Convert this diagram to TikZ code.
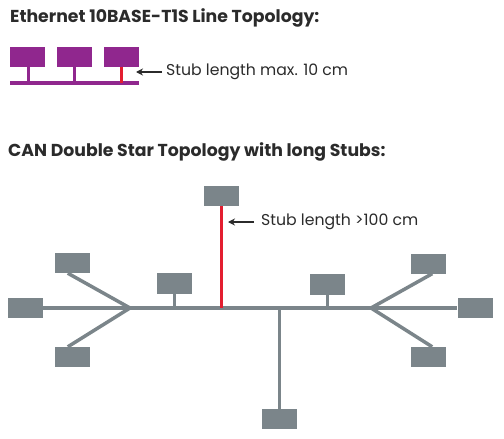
\documentclass[tikz,border=0pt]{standalone}
\usepackage{fontspec}
\setmainfont{Poppins}
\usepackage{tikz}
\usetikzlibrary{calc,positioning,arrows.meta}
\definecolor{purplebox}{HTML}{90278E}
\definecolor{graybox}{HTML}{7B858A}
\definecolor{stubred}{HTML}{E31E30}
\definecolor{textdark}{HTML}{2B2B2B}
\tikzstyle{ethbox} = [rectangle, minimum width=35pt, minimum height=20pt, inner sep=0pt, fill=purplebox]
\tikzstyle{canbox} = [rectangle, minimum width=35pt, minimum height=20pt, inner sep=0pt, fill=graybox]
\tikzstyle{ethline} = [draw=purplebox, line width=3pt]
\tikzstyle{canline} = [draw=graybox, line width=3.5pt]
\tikzstyle{longstub} = [draw=stubred, line width=3pt]
\tikzstyle{title} = [anchor=west, inner sep=0pt, text=textdark, font=\fontsize{17.3}{20}\selectfont\bfseries]
\tikzstyle{label} = [anchor=west, inner sep=0pt, text=textdark, font=\fontsize{15.7}{19}\selectfont]
\tikzstyle{arrow} = [draw=textdark, line width=1.6pt, -{Stealth[length=7pt,width=7pt]}]

\begin{document}
\begin{tikzpicture}[x=1pt, y=-1pt]
    \useasboundingbox (0,0) rectangle (504,439);

    % Ethernet line topology
    \node (ethtitle) [title] at (10,18) {Ethernet 10BASE-T1S Line Topology:};
    \node (eth1) [ethbox] at (27.5,57) {};
    \node (eth2) [ethbox, right=12pt of eth1] {};
    \node (eth3) [ethbox, right=11pt of eth2] {};
    \coordinate (busL) at (10,83);
    \coordinate (busR) at (139,83);

    \draw [ethline, line width=4pt] (busL) -- (busR);
    \draw [ethline] ([xshift=0.5pt]eth1.south) -- ([xshift=0.5pt]eth1.south |- busL);
    \draw [ethline] ([xshift=-0.5pt]eth2.south) -- ([xshift=-0.5pt]eth2.south |- busL);
    \draw [longstub] ([xshift=0.5pt]eth3.south) -- ([xshift=0.5pt]eth3.south |- busL);

    \node (ethlabel) [label] at (166,72) {Stub length max. 10 cm};
    \coordinate (ethtip) at (136,72);
    \draw [arrow] ([xshift=-4pt]ethlabel.west) -- (ethtip);

    % CAN double star topology
    \node (cantitle) [title] at (8,152) {CAN Double Star Topology with long Stubs:};
    \coordinate (hubL) at (130,308);
    \coordinate (hubR) at (371,308);

    \node (ul) [canbox] at (72.5,263) {};
    \node (ml) [canbox] at (25.5,308) {};
    \node (ll) [canbox] at (72.5,357) {};
    \node (sl) [canbox, minimum height=21pt] at (174,283.5) {};
    \node (top) [canbox] at (221.5,196) {};
    \node (sr) [canbox, minimum height=21pt] at (327,284) {};
    \node (bot) [canbox] at (279.5,419) {};
    \node (ur) [canbox] at (428.5,263.5) {};
    \node (mr) [canbox] at (475,308) {};
    \node (lr) [canbox] at (428.5,357) {};

    \draw [canline] (ml.east) -- (mr.west);
    \draw [canline] ([xshift=13pt]ul.south west) -- (hubL);
    \draw [canline] ([xshift=13pt]ll.north west) -- (hubL);
    \draw [canline] ([xshift=-14pt]ur.south east) -- (hubR);
    \draw [canline] ([xshift=-14pt]lr.north east) -- (hubR);
    \draw [canline, line width=3pt] (sl.south) -- (sl.south |- hubL);
    \draw [canline, line width=3pt] (sr.south) -- (sr.south |- hubL);
    \draw [canline] (bot.north) -- (bot.north |- hubL);
    \draw [longstub] (top.south) -- (top.south |- hubL);

    \node (canlabel) [label] at (261,222) {Stub length >100 cm};
    \coordinate (cantip) at (228,222);
    \draw [arrow] ([xshift=-7pt]canlabel.west) -- (cantip);

\end{tikzpicture}
\end{document}
